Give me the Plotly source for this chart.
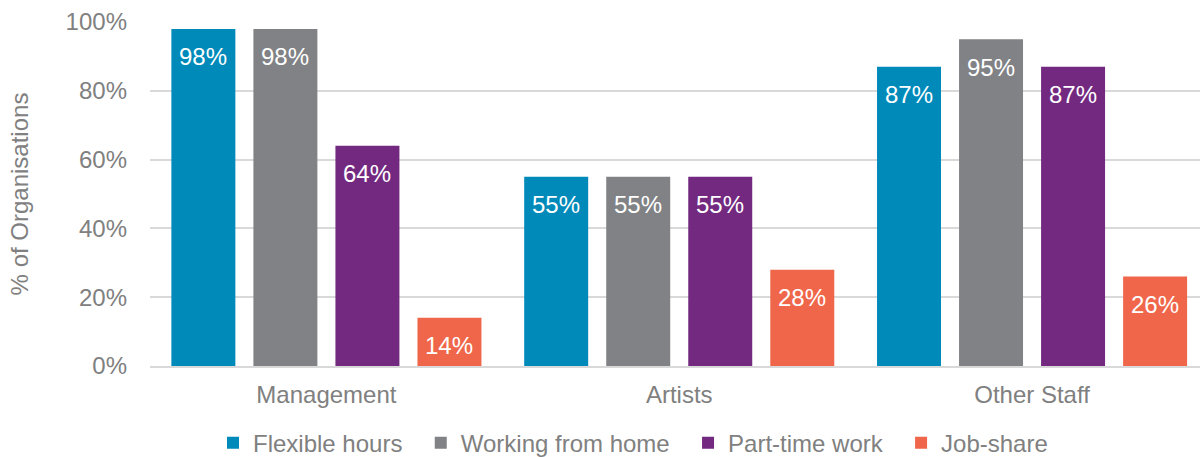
import plotly.graph_objects as go

categories = ["Management", "Artists", "Other Staff"]
series_names = ["Flexible hours", "Working from home", "Part-time work", "Job-share"]
flexible_hours = [98, 55, 87]
working_from_home = [98, 55, 95]
part_time_work = [64, 55, 87]
job_share = [14, 28, 26]
y_ticks = [0, 20, 40, 60, 80, 100]
y_tick_labels = ["0%", "20%", "40%", "60%", "80%", "100%"]

series_values = [flexible_hours, working_from_home, part_time_work, job_share]
colors = ["#008ABA", "#808285", "#72297F", "#F0664A"]

FONT = "Liberation Sans, Arial, sans-serif"
GRAY = "#808080"

fig = go.Figure()
for i, (name, vals, col) in enumerate(zip(series_names, series_values, colors)):
    pad = "\u00a0\u00a0" if i < len(series_names) - 1 else ""
    fig.add_trace(go.Bar(
        x=categories, y=vals, name=name + pad, marker_color=col,
        marker_line_width=0,
    ))

# value labels inside the top of each bar
slot_px = 82.0
n = len(series_names)
annotations = []
for j, vals in enumerate(series_values):
    for c, v in zip(categories, vals):
        annotations.append(dict(
            x=c, y=v, xref="x", yref="y", text=f"{v}%", showarrow=False,
            xshift=(j - (n - 1) / 2) * slot_px, yshift=-28, yanchor="middle",
            font=dict(family=FONT, size=24, color="white"),
        ))

fig.update_layout(
    width=1200, height=457,
    margin=dict(l=150, r=0, t=22, b=91, autoexpand=False),
    paper_bgcolor="white", plot_bgcolor="white",
    barmode="group", bargap=0.07, bargroupgap=0.22,
    font=dict(family=FONT, size=24, color=GRAY),
    showlegend=True,
    legend=dict(orientation="h", x=0.46, xanchor="center", y=-0.224, yanchor="middle",
                font=dict(family=FONT, size=24, color=GRAY), traceorder="normal"),
    annotations=annotations,
)
fig.update_xaxes(
    range=[-0.5, 2.476], showgrid=False, showline=True, linecolor="#D9D9D9", linewidth=2,
    ticks="", tickfont=dict(family=FONT, size=24, color=GRAY), ticklabelstandoff=6,
    automargin=False,
)
fig.update_yaxes(
    range=[0, 100], tickvals=y_ticks, ticktext=y_tick_labels, showgrid=True, gridcolor="#D9D9D9",
    gridwidth=1.5, zeroline=False, showline=False, ticks="",
    tickfont=dict(family=FONT, size=24, color=GRAY), ticklabelstandoff=22,
    title=dict(text="% of Organisations", font=dict(family=FONT, size=24, color=GRAY), standoff=30),
    automargin=False,
)

fig.write_html("out.html", config={"displayModeBar": False},
               post_script="document.body.style.margin='0';document.body.style.overflow='hidden';")
